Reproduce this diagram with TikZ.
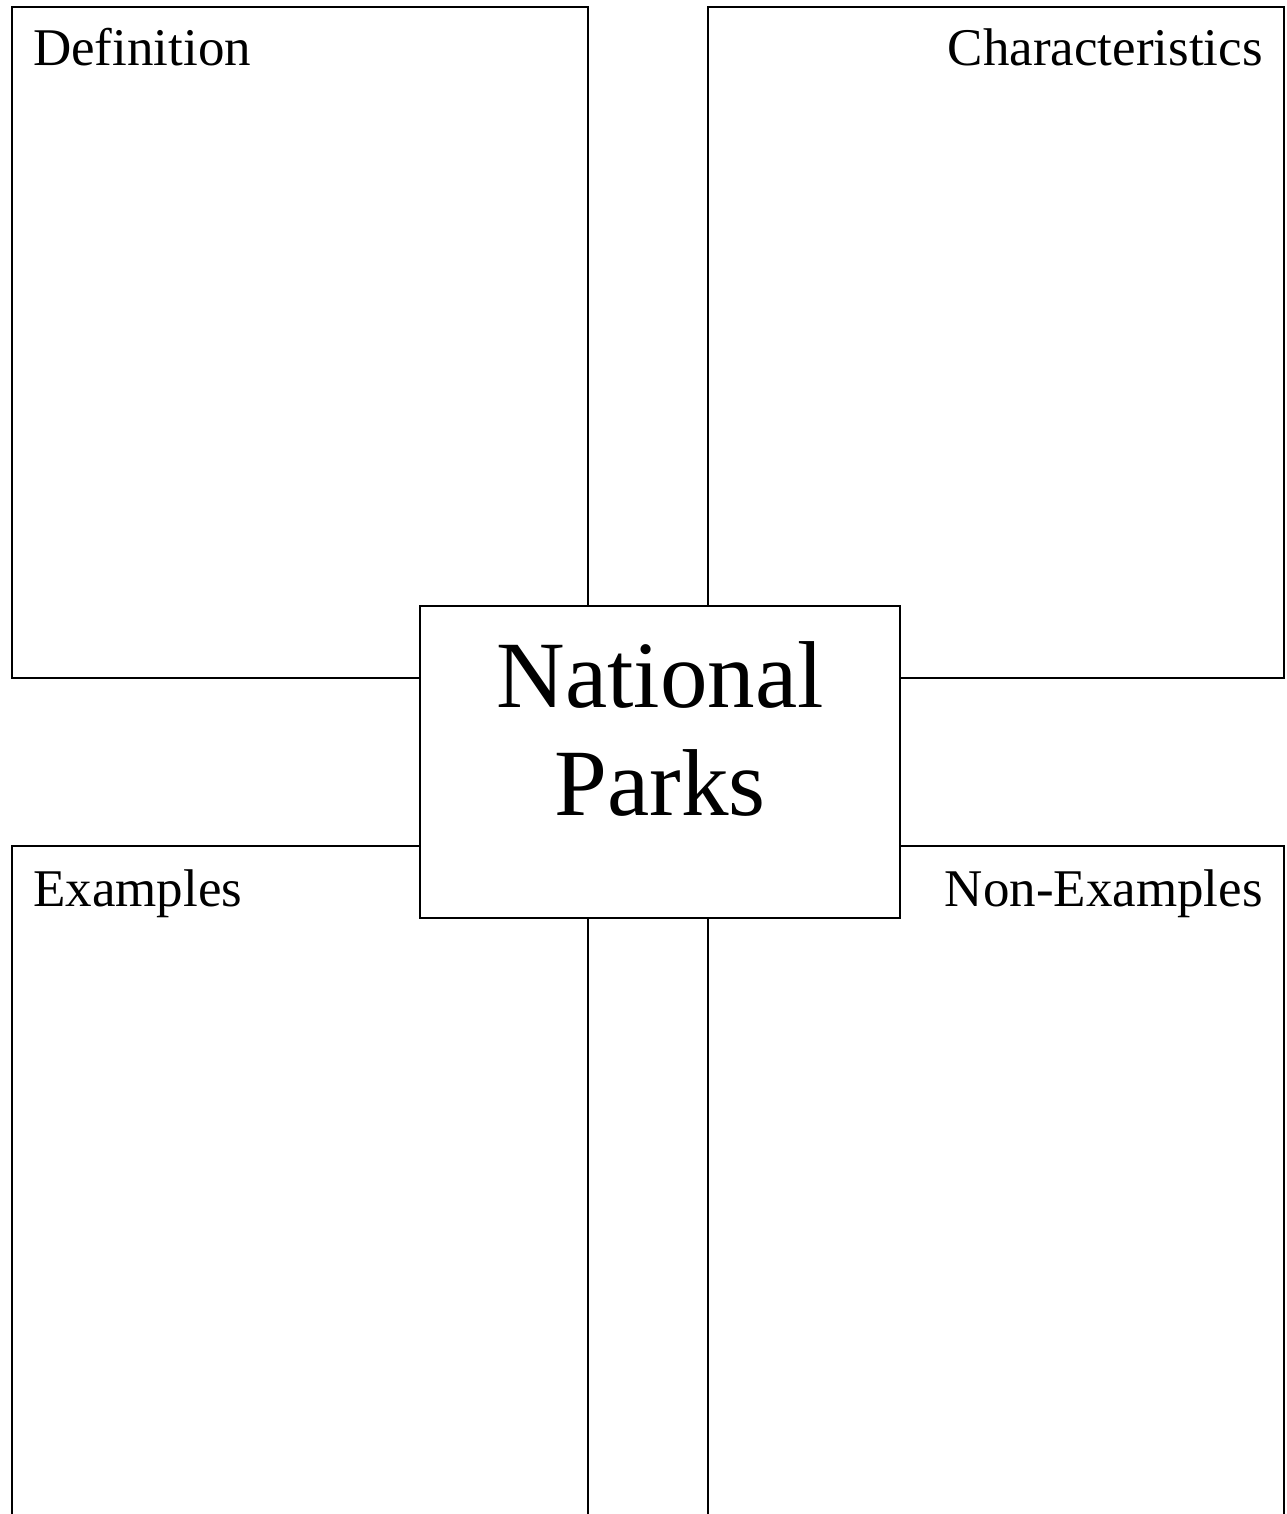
\documentclass[tikz,border=0pt]{standalone}
\usepackage{fontspec}
\setmainfont{Liberation Serif}
\begin{document}
\begin{tikzpicture}[x=1pt,y=-1pt,
  panel/.style={draw=black,line width=1.6pt,fill=white},
  lbl/.style={inner sep=0pt,font=\fontsize{53}{60}\selectfont},
  big/.style={inner sep=0pt,font=\fontsize{95}{109}\selectfont}]
\useasboundingbox[fill=white] (0,0) rectangle (1286,1514);
\clip (0,0) rectangle (1286,1514);
% quadrant panels
\draw[panel] (12,7) rectangle (588,678);
\draw[panel] (708,7) rectangle (1284,678);
\draw[panel] (12,846) rectangle (588,1540);
\draw[panel] (708,846) rectangle (1284,1540);
% centre box
\node[panel,minimum width=480pt,minimum height=312pt,inner sep=0pt,outer sep=0pt,anchor=north west] (centre) at (420,606) {};
% labels
\node[lbl,anchor=base west] (def) at (33,66) {Definition};
\node[lbl,anchor=base east] (char) at (1263,66) {Characteristics};
\node[lbl,anchor=base west] (ex) at (33,906) {Examples};
\node[lbl,anchor=base east] (nonex) at (1263,906) {Non-Examples};
\node[big,anchor=base] (nat) at (660,707) {National};
\node[big,anchor=base] (parks) at (660,815) {Parks};
\end{tikzpicture}
\end{document}
